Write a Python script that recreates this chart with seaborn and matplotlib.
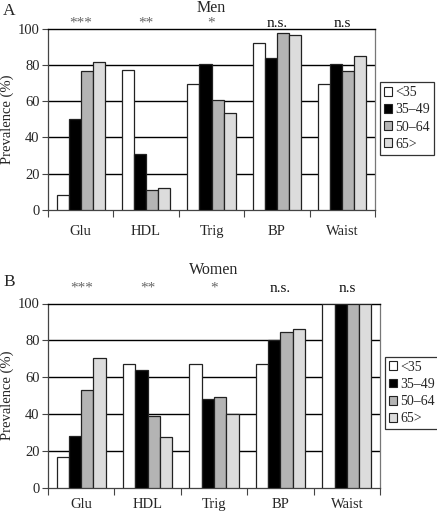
import matplotlib
matplotlib.use("Agg")
import matplotlib.pyplot as plt
import seaborn as sns
import pandas as pd
import numpy as np
from matplotlib.patches import Patch

categories = ["Glu", "HDL", "Trig", "BP", "Waist"]
age_groups = ["<35", "35\u201349", "50\u201364", "65>"]
men_lt35 = [8.5, 77, 69.5, 92, 69.5]
men_35_49 = [50, 31, 80.5, 83.5, 80.5]
men_50_64 = [76.5, 11, 60.5, 97.5, 76.5]
men_65 = [81.5, 12, 53.5, 96.5, 85]
women_lt35 = [17, 67, 67, 67, 100]
women_35_49 = [28, 64, 48, 80, 100]
women_50_64 = [53, 39, 49.5, 84.5, 100]
women_65 = [70.5, 27.5, 40, 86, 100]
significance = ["***", "**", "*", "n.s.", "n.s"]
yticks = [0, 20, 40, 60, 80, 100]

colors = ["#ffffff", "#000000", "#b4b4b4", "#dcdcdc"]

def long_df(series):
    rows = []
    for g, vals in zip(age_groups, series):
        for c, v in zip(categories, vals):
            rows.append({"cat": c, "age": g, "val": v})
    return pd.DataFrame(rows)

sns.set_theme(style="white")
plt.rcParams["font.family"] = ["Liberation Serif", "DejaVu Serif"]

fig = plt.figure(figsize=(4.37, 5.14), dpi=100)
W, H = 437, 514
ax1 = fig.add_axes([48 / W, 1 - 210 / H, 327 / W, (210 - 28.5) / H])
ax2 = fig.add_axes([48 / W, 1 - 488 / H, 332 / W, (488 - 303.5) / H])

panels = [
    (ax1, [men_lt35, men_35_49, men_50_64, men_65], 27.0, 0.504, 11),
    (ax2, [women_lt35, women_35_49, women_50_64, women_65], 291.5, 0.515, 7),
]

for ax, series, sig_y, leg_y, xpad in panels:
    df = long_df(series)
    sns.barplot(data=df, x="cat", y="val", hue="age", order=categories,
                hue_order=age_groups, palette=colors, edgecolor="#222222",
                linewidth=0.9, width=0.74, saturation=1, ax=ax, legend=False,
                zorder=3)
    ax.set_ylim(0, 100)
    ax.set_xlim(-0.5, 4.5)
    ax.set_yticks(yticks)
    for y in yticks[1:-1]:
        ax.axhline(y, color="black", lw=1.0, zorder=1)
    ax.set_ylabel("Prevalence (%)", fontsize=10.5, labelpad=3)
    ax.set_xlabel("")
    ax.tick_params(axis="y", which="both", left=True, length=4, width=0.8,
                   color="#444444", labelsize=10.5, pad=2)
    ax.set_xticks(range(len(categories)))
    ax.set_xticklabels(categories, fontsize=10.5)
    ax.tick_params(axis="x", which="major", length=0, pad=xpad)
    ax.set_xticks(np.arange(-0.5, 5.0, 1.0), minor=True)
    ax.tick_params(axis="x", which="minor", bottom=True, length=5,
                   width=0.8, color="#444444")
    for side in ["left", "bottom"]:
        ax.spines[side].set_color("#444444")
        ax.spines[side].set_linewidth(0.9)
    ax.spines["top"].set_color("black")
    ax.spines["top"].set_linewidth(1.0)
    ax.spines["right"].set_color("#777777")
    ax.spines["right"].set_linewidth(0.9)
    trans = ax.get_xaxis_transform()
    bbox = ax.get_position()
    y_ax = (1 - sig_y / H - bbox.y0) / bbox.height
    for i, s in enumerate(significance):
        col = "#666666" if "*" in s else "#111111"
        ax.text(i, y_ax, s, transform=trans, ha="center", va="baseline",
                fontsize=11, color=col, clip_on=False)
    handles = [Patch(facecolor=c, edgecolor="#222222", linewidth=0.8, label=g)
               for c, g in zip(colors, age_groups)]
    leg = ax.legend(handles=handles, loc="center left",
                    bbox_to_anchor=(1 + 5 / (bbox.width * W), leg_y),
                    frameon=True, fancybox=False, fontsize=10,
                    handlelength=0.55, handleheight=0.6, handletextpad=0.25,
                    borderpad=0.3, labelspacing=0.3, borderaxespad=0.0)
    leg.get_frame().set_edgecolor("black")
    leg.get_frame().set_linewidth(0.9)

fig.text(211 / W, 1 - 8 / H, "Men", ha="center", va="center", fontsize=11.5)
fig.text(3 / W, 1 - 11 / H, "A", ha="left", va="center", fontsize=12.5)
fig.text(214 / W, 1 - 270 / H, "Women", ha="center", va="center", fontsize=11.5)
fig.text(3 / W, 1 - 282 / H, "B", ha="left", va="center", fontsize=12.5)

fig.savefig("out.png", dpi=100)
